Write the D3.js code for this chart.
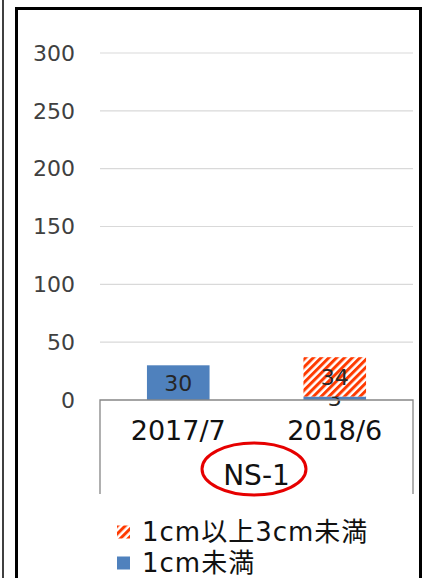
<!DOCTYPE html>
<html>
<head>
<meta charset="utf-8">
<style>
  body { margin: 0; background: #fff; }
  svg { display: block; font-family: "DejaVu Sans", Verdana, "Noto Sans CJK JP", sans-serif; }
  .grid line { stroke: #d9d9d9; stroke-width: 1.2; }
  .ytick text { fill: #404040; font-size: 22px; }
</style>
<title>NS-1</title>
</head>
<body>
<script src="https://cdn.jsdelivr.net/npm/d3@7"></script>
<script>

var categories = ["2017/7", "2018/6"];
var groupLabel = "NS-1";
var under1cm = [30, 3];          // 1cm未満
var from1to3cm = [0, 34];        // 1cm以上3cm未満
var seriesNames = ["1cm未満", "1cm以上3cm未満"];
var yTicks = [0, 50, 100, 150, 200, 250, 300];

var W = 424, H = 578;
var plot = {left: 100, right: 413, top: 53, bottom: 400};

var rows = categories.map((c, i) => ({cat: c, a: under1cm[i], b: from1to3cm[i]}));

var svg = d3.select("body").append("svg")
	.attr("width", W)
	.attr("height", H);

var defs = svg.append("defs");
var pat = defs.append("pattern")
	.attr("id", "hatch")
	.attr("patternUnits", "userSpaceOnUse")
	.attr("width", 5.5)
	.attr("height", 5.5)
	.attr("patternTransform", "rotate(45)");
pat.append("rect").attr("width", 5.5).attr("height", 5.5).attr("fill", "#fff");
pat.append("rect").attr("width", 3).attr("height", 5.5).attr("fill", "#ff3a00");

// outer frame
svg.append("line")
	.attr("x1", 3).attr("x2", 3).attr("y1", 0).attr("y2", H)
	.attr("stroke", "#000").attr("stroke-width", 1.5);
svg.append("rect")
	.attr("x", 16.5).attr("y", 8.5)
	.attr("width", 404).attr("height", H + 20)
	.attr("fill", "none").attr("stroke", "#000").attr("stroke-width", 3);

var x = d3.scaleBand()
	.domain(categories)
	.range([plot.left, plot.right]);

var y = d3.scaleLinear()
	.domain([0, 300])
	.range([plot.bottom, plot.top]);

// gridlines
var grid = svg.append("g").attr("class", "grid");
grid.selectAll("line")
	.data(yTicks.filter(d => d > 0))
	.enter().append("line")
	.attr("x1", plot.left).attr("x2", plot.right)
	.attr("y1", d => y(d)).attr("y2", d => y(d));

// y labels
svg.append("g").attr("class", "ytick")
	.selectAll("text")
	.data(yTicks)
	.enter().append("text")
	.attr("x", 75)
	.attr("y", d => y(d))
	.attr("dy", "0.35em")
	.attr("text-anchor", "end")
	.text(d => d);

// stacked bars
var stack = d3.stack().keys(["a", "b"])(rows);
var fills = ["#4f81bd", "url(#hatch)"];
var barW = x.bandwidth() * 0.4;

var layer = svg.selectAll(".layer")
	.data(stack)
	.enter().append("g")
	.attr("class", "layer")
	.attr("fill", (d, i) => fills[i]);

layer.selectAll("rect")
	.data(d => d)
	.enter().append("rect")
	.attr("x", d => x(d.data.cat) + (x.bandwidth() - barW) / 2)
	.attr("width", barW)
	.attr("y", d => y(d[1]))
	.attr("height", d => y(d[0]) - y(d[1]));

// data labels
layer.selectAll("text")
	.data(d => d.filter(e => e[1] - e[0] > 0))
	.enter().append("text")
	.attr("x", d => x(d.data.cat) + x.bandwidth() / 2)
	.attr("y", d => (y(d[0]) + y(d[1])) / 2)
	.attr("dy", "0.36em")
	.attr("text-anchor", "middle")
	.attr("fill", "#262626")
	.attr("font-size", 22)
	.text(d => d[1] - d[0]);

// category axis box
var axis = svg.append("g").attr("stroke", "#868686").attr("stroke-width", 1.3).attr("fill", "none");
axis.append("path")
	.attr("d", `M${plot.left},494V${plot.bottom}H${plot.right}V494`);

svg.append("g")
	.selectAll("text")
	.data(categories)
	.enter().append("text")
	.attr("x", d => x(d) + x.bandwidth() / 2)
	.attr("y", 440)
	.attr("text-anchor", "middle")
	.attr("font-size", 27)
	.attr("fill", "#111")
	.text(d => d);

var gx = (plot.left + plot.right) / 2;
svg.append("text")
	.attr("x", gx)
	.attr("y", 485)
	.attr("text-anchor", "middle")
	.attr("font-size", 28)
	.attr("fill", "#111")
	.text(groupLabel);

svg.append("ellipse")
	.attr("cx", 254).attr("cy", 469)
	.attr("rx", 52).attr("ry", 26)
	.attr("fill", "none")
	.attr("stroke", "#e60000")
	.attr("stroke-width", 3);

// legend
var legend = svg.append("g").attr("transform", "translate(117,0)");
var legendItems = [
	{name: seriesNames[1], fill: "url(#hatch)", y: 532},
	{name: seriesNames[0], fill: "#4f81bd", y: 563}
];
var li = legend.selectAll("g")
	.data(legendItems)
	.enter().append("g")
	.attr("transform", d => `translate(0,${d.y})`);
li.append("rect")
	.attr("x", 0).attr("y", -6.5)
	.attr("width", 13).attr("height", 13)
	.attr("fill", d => d.fill);
li.append("text")
	.attr("x", 25)
	.attr("dy", "0.36em")
	.attr("font-size", 26)
	.attr("letter-spacing", 1)
	.attr("fill", "#111")
	.text(d => d.name);

</script>
</body>
</html>
